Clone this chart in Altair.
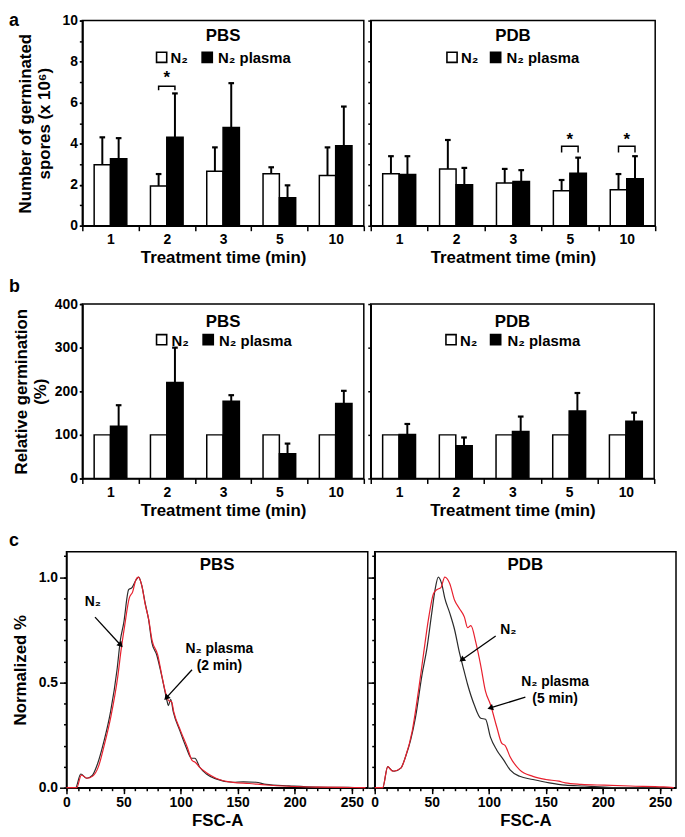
import math
import altair as alt
import pandas as pd

FONT = "Liberation Sans"

# ---------------- data ----------------
times = ["1", "2", "3", "5", "10"]
series = ["N₂", "N₂ plasma"]

# panel a: number of germinated spores (x10^6), mean and top of error bar
a_pbs_n2 = [2.97, 1.94, 2.66, 2.53, 2.45]
a_pbs_n2_hi = [4.31, 2.52, 3.82, 2.85, 3.82]
a_pbs_pl = [3.26, 4.31, 4.79, 1.37, 3.90]
a_pbs_pl_hi = [4.27, 6.45, 6.95, 1.97, 5.81]
a_pdb_n2 = [2.53, 2.77, 2.08, 1.71, 1.76]
a_pdb_n2_hi = [3.39, 4.18, 2.77, 2.23, 2.52]
a_pdb_pl = [2.50, 2.00, 2.16, 2.56, 2.29]
a_pdb_pl_hi = [3.39, 2.82, 2.71, 3.32, 3.39]
a_pbs_sig = [1]
a_pdb_sig = [3, 4]
a_pbs_sig_y = [6.8, 6.6, 7.2]    # bracket top, bracket foot, star
a_pdb_sig_y = [3.87, 3.57, 4.2]

# panel b: relative germination (%)
b_pbs_n2 = [100, 100, 100, 100, 100]
b_pbs_pl = [120, 220, 177, 57, 172]
b_pbs_pl_hi = [168, 300, 191, 80, 201]
b_pdb_n2 = [100, 100, 100, 100, 100]
b_pdb_pl = [101, 75, 108, 155, 131]
b_pdb_pl_hi = [125, 94, 142, 196, 151]

# panel c: FSC-A histograms (normalized)
c_pbs_n2_x = [0, 8, 12.5, 17.7, 22.6, 27, 32.8, 38.6, 44.3, 47.2, 50.1, 54.5, 57.4, 60.3, 63.2, 66, 69, 71.9,
              74.8, 79.1, 83.5, 87.8, 89.3, 91.3, 93.6, 99.4, 105, 109.6, 112.5, 116.8, 122.6, 131, 145.8,
              155, 166, 174.8, 195, 218, 247, 262]
c_pbs_n2_y = [0, 0, 0.065, 0.045, 0.058, 0.11, 0.22, 0.36, 0.56, 0.70, 0.78, 0.94, 0.95, 0.98, 1.0, 0.96,
              0.875, 0.80, 0.69, 0.63, 0.53, 0.42, 0.39, 0.42, 0.36, 0.27, 0.19, 0.14, 0.14, 0.097, 0.065,
              0.042, 0.026, 0.028, 0.026, 0.016, 0.009, 0.003, 0.0015, 0]
c_pbs_pl_x = [0, 9, 13, 18, 23, 28, 33, 39, 45, 48, 51, 55, 58, 61, 63, 66, 69, 72, 75, 80, 84, 88, 90.5, 92,
              94, 100, 106, 110, 113, 117, 123, 131, 146, 160, 175, 195, 220, 250, 262]
c_pbs_pl_y = [0, 0, 0.06, 0.045, 0.055, 0.10, 0.20, 0.34, 0.53, 0.66, 0.77, 0.90, 0.93, 0.99, 1.0, 0.96,
              0.87, 0.80, 0.70, 0.63, 0.52, 0.43, 0.41, 0.41, 0.36, 0.27, 0.19, 0.13, 0.12, 0.095, 0.07,
              0.045, 0.025, 0.02, 0.013, 0.007, 0.003, 0.001, 0]
c_pdb_n2_x = [0, 7, 11.4, 14.3, 17, 22.9, 27, 31.4, 35.7, 41.4, 45.7, 50, 52.9, 55.7, 58.6, 61.4, 65.7, 70,
              74.3, 77.1, 81.4, 87.1, 92.9, 97.1, 101.4, 107, 112.9, 118.6, 127, 138.6, 152.9, 167, 184,
              201, 215, 262]
c_pdb_n2_y = [0, 0, 0.10, 0.085, 0.078, 0.093, 0.147, 0.225, 0.333, 0.535, 0.66, 0.83, 0.94, 1.0, 0.97,
              0.90, 0.83, 0.75, 0.64, 0.58, 0.49, 0.395, 0.33, 0.325, 0.24, 0.178, 0.132, 0.085, 0.054,
              0.039, 0.023, 0.012, 0.008, 0.003, 0, 0]
c_pdb_pl_x = [0, 7, 11.4, 15.7, 22.9, 27, 32.9, 38.6, 42.9, 47.1, 51.4, 54.3, 58, 61.4, 65.7, 70, 74.3, 78.6,
              81.4, 84.3, 88.6, 92.9, 97.1, 101.4, 107, 111.4, 114.3, 118.6, 127, 138.6, 150, 161.4, 167,
              181, 201, 224, 253, 262]
c_pdb_pl_y = [0, 0, 0.10, 0.078, 0.093, 0.147, 0.27, 0.47, 0.64, 0.80, 0.92, 0.94, 0.95, 1.0, 0.97, 0.89,
              0.85, 0.81, 0.76, 0.77, 0.69, 0.58, 0.457, 0.395, 0.287, 0.21, 0.20, 0.147, 0.085, 0.054,
              0.039, 0.031, 0.023, 0.016, 0.012, 0.008, 0.004, 0]

# annotations for panel c: text (label, x, y) and arrows (tail x, tail y, tip x, tip y)
c_pbs_text = [("N₂", 23, 0.88), ("N₂ plasma", 134, 0.66), ("(2 min)", 134, 0.58)]
c_pbs_arrows = [(25, 0.81, 47, 0.68), (110, 0.56, 88, 0.43)]
c_pdb_text = [("N₂", 117, 0.75), ("N₂ plasma", 158, 0.50), ("(5 min)", 158, 0.42)]
c_pdb_arrows = [(106, 0.72, 77, 0.61), (132, 0.43, 102, 0.38)]

BW = 0.29
CAP = 0.05
X_DOM = [-0.5, 4.5]
C_XDOM = [0, 264]
C_YDOM = [0, 1.12]
FILL_SCALE = alt.Scale(domain=series, range=["white", "black"])


def letter_chart(letter, x, y, h):
    # narrow invisible view that only carries the panel letter
    return alt.Chart(pd.DataFrame({"t": [letter]})).mark_text(
        align="left", baseline="top", fontSize=18, fontWeight="bold", font=FONT, color="black"
    ).encode(text="t:N", x=alt.value(x), y=alt.value(y)).properties(
        width=9, height=h, view=alt.ViewBackground(strokeOpacity=0))


def letter_layer(letter, x, y):
    return alt.Chart(pd.DataFrame({"t": [letter]})).mark_text(
        align="left", baseline="top", fontSize=18, fontWeight="bold", font=FONT, color="black"
    ).encode(text="t:N", x=alt.value(x), y=alt.value(y))


def title_layer(title, w, y):
    return alt.Chart(pd.DataFrame({"t": [title]})).mark_text(
        fontSize=17, fontWeight="bold", font=FONT, color="black", baseline="middle"
    ).encode(text="t:N", x=alt.value(w / 2), y=alt.value(y))


def legend_layers(sq_x, txt_x, y):
    ldf = pd.DataFrame({"s": series, "sx": sq_x, "tx": txt_x})
    squares = alt.Chart(ldf).mark_square(size=105, stroke="black", strokeWidth=1.6, opacity=1).encode(
        x=alt.X("sx:Q", scale=None, axis=None), y=alt.value(y),
        fill=alt.Fill("s:N", scale=FILL_SCALE, legend=None))
    labels = alt.Chart(ldf).mark_text(align="left", baseline="middle", fontSize=15, fontWeight="bold",
                                      font=FONT, color="black").encode(
        x=alt.X("tx:Q", scale=None, axis=None), y=alt.value(y + 1), text="s:N")
    return [squares, labels]


def bar_panel(n2, n2_hi, pl, pl_hi, sig, sig_y, ymax, ylab_vals, ytick_vals, ytitle, show_ylabels,
              title, w, h, title_y, leg_sq, leg_tx, leg_y, ytitle_pad=10):
    rows = []
    for i, t in enumerate(times):
        for s, v, hi in ((series[0], n2[i], n2_hi[i]), (series[1], pl[i], pl_hi[i])):
            x0 = i - BW if s == series[0] else i
            x1 = x0 + BW
            xc = (x0 + x1) / 2
            rows.append(dict(time=t, series=s, x0=x0, x1=x1, xc=xc, capl=xc - CAP, capr=xc + CAP,
                             val=v, hi=hi, zero=0))
    df = pd.DataFrame(rows)
    df_err = df[df["hi"] > df["val"]]

    lab_list = "[" + ",".join("'%s'" % t for t in times) + "]"
    x_lab_axis = alt.Axis(
        orient="bottom", values=list(range(len(times))), labelExpr=lab_list + "[datum.value]",
        ticks=False, labelPadding=7, labelFlush=False, title="Treatment time (min)", titlePadding=3,
    )
    x_tick_axis = alt.Axis(
        orient="bottom", values=[k - 0.5 for k in range(len(times) + 1)], labels=False, tickSize=5,
        domain=False, title=None,
    )
    if show_ylabels:
        y_lab_axis = alt.Axis(orient="left", values=ylab_vals, tickSize=3, labelPadding=2,
                              title=ytitle, titlePadding=ytitle_pad, titleLineHeight=19)
    else:
        y_lab_axis = None
    y_tick_axis = alt.Axis(orient="left", values=ytick_vals, labels=False, tickSize=3, title=None)

    xs = alt.Scale(domain=X_DOM, nice=False, zero=False)
    ys = alt.Scale(domain=[0, ymax], nice=False)

    bars = alt.Chart(df).mark_rect(stroke="black", strokeWidth=1.5).encode(
        x=alt.X("x0:Q", scale=xs, axis=x_lab_axis),
        x2="x1:Q",
        y=alt.Y("val:Q", scale=ys, axis=y_lab_axis),
        y2="zero:Q",
        fill=alt.Fill("series:N", scale=FILL_SCALE, legend=None),
    )
    err = alt.Chart(df_err).mark_rule(color="black", strokeWidth=2).encode(
        x=alt.X("xc:Q", scale=xs, axis=x_tick_axis), y=alt.Y("val:Q", scale=ys, axis=y_tick_axis), y2="hi:Q")
    caps = alt.Chart(df_err).mark_rule(color="black", strokeWidth=2.2).encode(
        x=alt.X("capl:Q", scale=xs, axis=None), x2="capr:Q", y=alt.Y("hi:Q", scale=ys, axis=None))
    layers = [bars, err, caps]

    if sig:
        brows = []
        srows = []
        for g in sig:
            xa = g - BW / 2
            xb = g + BW / 2
            for k, (bx, by) in enumerate(((xa, sig_y[1]), (xa, sig_y[0]), (xb, sig_y[0]), (xb, sig_y[1]))):
                brows.append(dict(grp=g, ord=k, bx=bx, by=by))
            srows.append(dict(sx=g, sy=sig_y[2]))
        brk = alt.Chart(pd.DataFrame(brows)).mark_line(color="black", strokeWidth=1.5).encode(
            x=alt.X("bx:Q", scale=xs, axis=None), y=alt.Y("by:Q", scale=ys, axis=None),
            detail="grp:N", order="ord:Q")
        star = alt.Chart(pd.DataFrame(srows)).mark_text(
            text="*", fontSize=17, fontWeight="bold", font=FONT, color="black", baseline="middle"
        ).encode(x=alt.X("sx:Q", scale=xs, axis=None), y=alt.Y("sy:Q", scale=ys, axis=None))
        layers += [brk, star]

    layers.append(title_layer(title, w, title_y))
    layers += legend_layers(leg_sq, leg_tx, leg_y)
    return alt.layer(*layers).resolve_axis(x="independent", y="independent").properties(width=w, height=h)


def flow_panel(n2x, n2y, plx, ply, texts, arrows, title, w, h, show_ylabels, letter=None, letter_pos=(0, 0)):
    df = pd.DataFrame(
        [dict(series=series[0], fsc=x, norm=y, idx=i) for i, (x, y) in enumerate(zip(n2x, n2y))]
        + [dict(series=series[1], fsc=x, norm=y, idx=i) for i, (x, y) in enumerate(zip(plx, ply))]
    )
    xs = alt.Scale(domain=C_XDOM, nice=False, zero=False)
    ys = alt.Scale(domain=C_YDOM, nice=False)
    x_lab_axis = alt.Axis(orient="bottom", values=list(range(0, 251, 50)), tickSize=6, labelPadding=2,
                          labelFlush=False, title="FSC-A", titlePadding=3)
    x_tick_axis = alt.Axis(orient="bottom", values=list(range(0, 261, 10)), labels=False, tickSize=3,
                           domain=False, title=None)
    if show_ylabels:
        y_lab_axis = alt.Axis(orient="left", values=[0, 0.5, 1.0], format=".1f", tickSize=7, labelPadding=2,
                              title="Normalized %", titlePadding=9)
    else:
        y_lab_axis = alt.Axis(orient="left", values=[0, 0.5, 1.0], labels=False, tickSize=7, title=None)
    y_tick_axis = alt.Axis(orient="left", values=[round(0.1 * k, 1) for k in range(12)], labels=False,
                           tickSize=3, domain=False, title=None)

    lines = alt.Chart(df).mark_line(strokeWidth=1.2, interpolate="monotone").encode(
        x=alt.X("fsc:Q", scale=xs, axis=x_lab_axis),
        y=alt.Y("norm:Q", scale=ys, axis=y_lab_axis),
        color=alt.Color("series:N", scale=alt.Scale(domain=series, range=["#2a2a2a", "#e8202e"]), legend=None),
        order="idx:Q",
    )
    tdf = pd.DataFrame([dict(t=t, tx=x, ty=y) for t, x, y in texts])
    txt = alt.Chart(tdf).mark_text(fontSize=14, fontWeight="bold", font=FONT, color="black",
                                   baseline="middle").encode(
        text="t:N", x=alt.X("tx:Q", scale=xs, axis=None), y=alt.Y("ty:Q", scale=ys, axis=None))
    pxx = w / (C_XDOM[1] - C_XDOM[0])
    pxy = h / (C_YDOM[1] - C_YDOM[0])
    arows = []
    for (x0, y0, x1, y1) in arrows:
        dx = (x1 - x0) * pxx
        dy = -(y1 - y0) * pxy
        ang = math.degrees(math.atan2(dx, -dy)) % 360
        arows.append(dict(x0=x0, y0=y0, x1=x1, y1=y1, ang=ang))
    adf = pd.DataFrame(arows)
    ar_line = alt.Chart(adf).mark_rule(color="black", strokeWidth=1.3).encode(
        x=alt.X("x0:Q", scale=xs, axis=x_tick_axis), y=alt.Y("y0:Q", scale=ys, axis=y_tick_axis),
        x2="x1:Q", y2="y1:Q")
    ar_head = alt.Chart(adf).mark_point(shape="triangle", filled=True, color="black", size=45,
                                        opacity=1).encode(
        x=alt.X("x1:Q", scale=xs, axis=None), y=alt.Y("y1:Q", scale=ys, axis=None),
        angle=alt.Angle("ang:Q", scale=None))
    layers = [lines, ar_line, ar_head, txt, title_layer(title, w, 13)]
    if letter:
        layers.append(letter_layer(letter, *letter_pos))
    return alt.layer(*layers).resolve_axis(x="independent", y="independent").properties(width=w, height=h)


# ---------------- rows ----------------
A_H = 207
B_H = 176
C_H = 238
LEFT = 58   # distance from the figure's left edge to the panel-c plot

a_left = bar_panel(a_pbs_n2, a_pbs_n2_hi, a_pbs_pl, a_pbs_pl_hi, a_pbs_sig, a_pbs_sig_y, 10,
                   [0, 2, 4, 6, 8, 10], list(range(0, 11)),
                   ["Number of germinated", "spores (x 10⁶)"], True, "PBS", 284, A_H, 16,
                   [80, 126], [89, 137], 37, ytitle_pad=9)
a_right = bar_panel(a_pdb_n2, a_pdb_n2_hi, a_pdb_pl, a_pdb_pl_hi, a_pdb_sig, a_pdb_sig_y, 10,
                    [], list(range(0, 11)), None, False, "PDB", 287, A_H, 16,
                    [82, 126], [91, 137], 37)
row_a = alt.hconcat(letter_chart("a", -LEFT, -9, A_H), a_left, a_right, spacing=7, bounds="flush")

b_left = bar_panel(b_pbs_n2, b_pbs_n2, b_pbs_pl, b_pbs_pl_hi, [], None, 400,
                   [0, 100, 200, 300, 400], [0, 100, 200, 300, 400], ["Relative germination", "(%)"], True,
                   "PBS", 284, B_H, 18, [80, 127], [90, 138], 36, ytitle_pad=5)
b_right = bar_panel(b_pdb_n2, b_pdb_n2, b_pdb_pl, b_pdb_pl_hi, [], None, 400,
                    [], [0, 100, 200, 300, 400], None, False, "PDB", 286, B_H, 18,
                    [81, 126], [90, 138], 36)
row_b = alt.hconcat(letter_chart("b", -LEFT, -26, B_H), b_left, b_right, spacing=7, bounds="flush")

c_left = flow_panel(c_pbs_n2_x, c_pbs_n2_y, c_pbs_pl_x, c_pbs_pl_y, c_pbs_text, c_pbs_arrows, "PBS",
                    304, C_H, True, letter="c", letter_pos=(-LEFT, -20))
c_right = flow_panel(c_pdb_n2_x, c_pdb_n2_y, c_pdb_pl_x, c_pdb_pl_y, c_pdb_text, c_pdb_arrows, "PDB",
                     304, C_H, False)
row_c = alt.hconcat(c_left, c_right, spacing=7, bounds="flush")

chart = alt.vconcat(row_a, row_b, row_c, spacing=12).properties(
    padding={"left": 0, "top": 0, "right": 0, "bottom": 0}
).configure_view(stroke="black", strokeWidth=1.5).configure_axis(
    labelFont=FONT, labelFontSize=14, labelFontWeight="bold", labelColor="black",
    titleFont=FONT, titleFontSize=17, titleFontWeight="bold", titleColor="black",
    domainColor="black", domainWidth=1.5, tickColor="black", tickWidth=1.5, grid=False,
).configure_text(font=FONT)

chart.save("out.html", embed_options={"renderer": "svg", "actions": False})
